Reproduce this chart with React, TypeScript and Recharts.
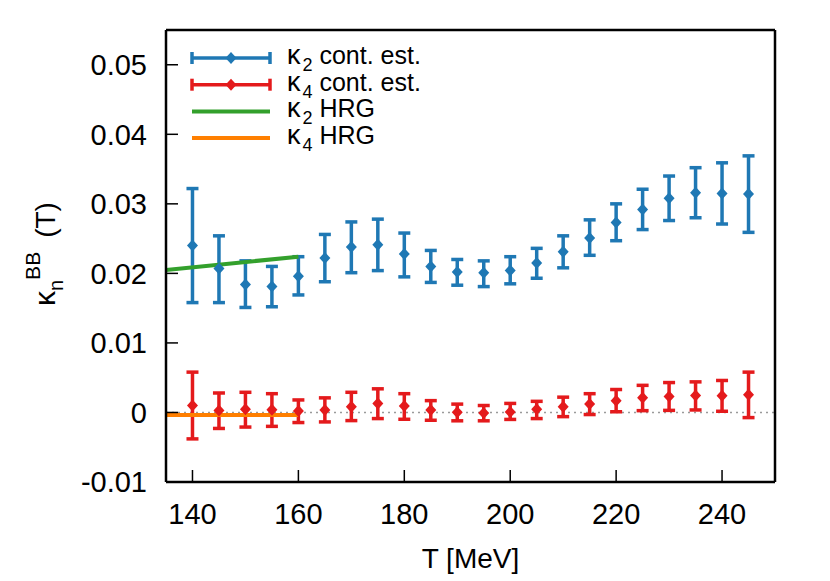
import React from 'react';
import { ComposedChart, Scatter, Line, XAxis, YAxis, ErrorBar, ReferenceLine, Legend } from 'recharts';

// temperatures of the continuum estimates
const temps = [140, 145, 150, 155, 160, 165, 170, 175, 180, 185, 190, 195, 200, 205, 210, 215, 220, 225, 230, 235, 240, 245];

// kappa_2 continuum estimate: central value and band edges
const k2Center = [0.0240, 0.0207, 0.0184, 0.0181, 0.0196, 0.0222, 0.0238, 0.0241, 0.0228, 0.0210, 0.0202, 0.0201, 0.0204, 0.0215, 0.0231, 0.0251, 0.0273, 0.0292, 0.0308, 0.0316, 0.0315, 0.0314];
const k2Upper = [0.0322, 0.0254, 0.0218, 0.0210, 0.0224, 0.0256, 0.0274, 0.0278, 0.0258, 0.0233, 0.0220, 0.0218, 0.0224, 0.0236, 0.0254, 0.0277, 0.0300, 0.0321, 0.0340, 0.0352, 0.0359, 0.0369];
const k2Lower = [0.0158, 0.0158, 0.0151, 0.0152, 0.0169, 0.0188, 0.0201, 0.0204, 0.0195, 0.0187, 0.0183, 0.0181, 0.0185, 0.0193, 0.0208, 0.0226, 0.0247, 0.0263, 0.0276, 0.0280, 0.0271, 0.0259];

// kappa_4 continuum estimate
const k4Center = [0.0010, 0.0003, 0.00045, 0.0004, 0.0002, 0.00036, 0.00083, 0.0013, 0.00093, 0.00036, 0.00002, -0.00007, 0.00007, 0.00045, 0.00083, 0.0012, 0.0017, 0.0021, 0.0023, 0.00245, 0.0024, 0.00255];
const k4Upper = [0.0058, 0.0028, 0.0029, 0.0027, 0.0018, 0.0021, 0.0029, 0.0034, 0.0027, 0.0017, 0.0012, 0.0010, 0.0013, 0.0016, 0.0022, 0.0027, 0.0033, 0.0039, 0.0043, 0.0044, 0.0046, 0.0058];
const k4Lower = [-0.0038, -0.0023, -0.0021, -0.0020, -0.00145, -0.00136, -0.00117, -0.00088, -0.00098, -0.00112, -0.0012, -0.0012, -0.0010, -0.00088, -0.0006, -0.0003, 0.0001, 0.00026, 0.0003, 0.00036, 0.00017, -0.00074];

// HRG curves
const hrgTemps = [135, 160];
const k2Hrg = [0.0205, 0.0224];
const k4Hrg = [-0.00035, -0.00035];

const xTicks = [140, 160, 180, 200, 220, 240];
const yTicks = [-0.01, 0, 0.01, 0.02, 0.03, 0.04, 0.05];

const legendSubs = ['2', '4', '2', '4'];
const legendNames = [' cont. est.', ' cont. est.', ' HRG', ' HRG'];

const BLUE = '#1f78b4';
const RED = '#e41a1c';
const GREEN = '#33a02c';
const ORANGE = '#ff7f00';
const FONT = '"Liberation Sans", Arial, sans-serif';

const legendColors = [BLUE, RED, GREEN, ORANGE];
const legendBars = [true, true, false, false];

const k2Data = temps.map((t, i) => ({ t, v: k2Center[i], err: [k2Center[i] - k2Lower[i], k2Upper[i] - k2Center[i]] }));
const k4Data = temps.map((t, i) => ({ t, v: k4Center[i], err: [k4Center[i] - k4Lower[i], k4Upper[i] - k4Center[i]] }));
const k2HrgData = hrgTemps.map((t, i) => ({ t, v: k2Hrg[i] }));
const k4HrgData = hrgTemps.map((t, i) => ({ t, v: k4Hrg[i] }));

const diamond = (color: string) => (props: any) => {
    const { cx, cy } = props;
    return <polygon points={`${cx},${cy - 6} ${cx + 5.5},${cy} ${cx},${cy + 6} ${cx - 5.5},${cy}`} fill={color} />;
};

function LegendBox() {
    return (
        <svg width={270} height={140} style={{ display: 'block' }}>
            {legendColors.map((c, i) => {
                const y = 28 + i * 26.7;
                return (
                    <g key={i}>
                        <line x1={4} x2={82} y1={y} y2={y} stroke={c} strokeWidth={legendBars[i] ? 3.5 : 4} />
                        {legendBars[i] && (
                            <g>
                                <line x1={4} x2={4} y1={y - 6} y2={y + 6} stroke={c} strokeWidth={3.5} />
                                <line x1={82} x2={82} y1={y - 6} y2={y + 6} stroke={c} strokeWidth={3.5} />
                                <polygon points={`${43},${y - 6} ${48.5},${y} ${43},${y + 6} ${37.5},${y}`} fill={c} />
                            </g>
                        )}
                        <text x={99} y={y + 6} fontSize={25} fontFamily={FONT} fill="#000">
                            <tspan fontSize={27}>κ</tspan>
                            <tspan dy={7} dx={2} fontSize={18}>{legendSubs[i]}</tspan>
                            <tspan dy={-7}>{legendNames[i]}</tspan>
                        </text>
                    </g>
                );
            })}
        </svg>
    );
}

const XLabel = (props: any) => {
    const vb = props.viewBox;
    return (
        <text x={vb.x + vb.width / 2} y={vb.y + 86} textAnchor="middle" fontSize={28} fontFamily={FONT} fill="#000">
            T [MeV]
        </text>
    );
};

const YLabel = (props: any) => {
    const vb = props.viewBox;
    const x = 55;
    const y = vb.y + vb.height / 2 + 50;
    return (
        <text x={x} y={y} transform={`rotate(-90 ${x} ${y})`} fontSize={28} fontFamily={FONT} fill="#000">
            <tspan fontSize={30}>κ</tspan>
            <tspan dy={8} fontSize={20}>n</tspan>
            <tspan dy={-23} fontSize={21}>BB</tspan>
            <tspan dy={15} dx={14}>(T)</tspan>
        </text>
    );
};

export default function App() {
    const axisLine = { stroke: '#000', strokeWidth: 2.5 };
    const tickLine = { stroke: '#000', strokeWidth: 1.5 };
    return (
        <div style={{ position: 'absolute', left: 0, top: 0, background: '#fff' }}>
            <ComposedChart width={830} height={581} margin={{ top: 0, right: 0, bottom: 0, left: 0 }}>
                <XAxis xAxisId={0} dataKey="t" type="number" domain={[135, 250]} ticks={xTicks} allowDataOverflow
                    height={99} axisLine={axisLine} tickLine={tickLine} tickSize={-12} tickMargin={33}
                    tick={{ fill: '#000', fontSize: 29, fontFamily: FONT }} label={XLabel} />
                <XAxis xAxisId="top" orientation="top" dataKey="t" type="number" domain={[135, 250]} ticks={xTicks}
                    allowDataOverflow height={30} axisLine={axisLine} tickLine={tickLine} tickSize={-12} tick={false} />
                <YAxis yAxisId={0} dataKey="v" type="number" domain={[-0.01, 0.055]} ticks={yTicks} allowDataOverflow
                    width={166} axisLine={axisLine} tickLine={tickLine} tickSize={-12} tickMargin={31}
                    tickFormatter={(v: number) => (v === 0 ? '0' : v.toFixed(2))}
                    tick={{ fill: '#000', fontSize: 29, fontFamily: FONT }} label={YLabel} />
                <YAxis yAxisId="right" orientation="right" type="number" domain={[-0.01, 0.055]} ticks={yTicks}
                    allowDataOverflow width={55} axisLine={axisLine} tickLine={tickLine} tickSize={-12} tick={false} />
                <ReferenceLine y={0} stroke="#9a9a9a" strokeWidth={1.5} strokeDasharray="2 4" />
                <Scatter name="k2" data={k2Data} dataKey="v" fill={BLUE} shape={diamond(BLUE)} isAnimationActive={false}>
                    <ErrorBar dataKey="err" direction="y" width={6} stroke={BLUE} strokeWidth={3.5} isAnimationActive={false} />
                </Scatter>
                <Scatter name="k4" data={k4Data} dataKey="v" fill={RED} shape={diamond(RED)} isAnimationActive={false}>
                    <ErrorBar dataKey="err" direction="y" width={6} stroke={RED} strokeWidth={3.5} isAnimationActive={false} />
                </Scatter>
                <Line data={k2HrgData} dataKey="v" stroke={GREEN} strokeWidth={4} dot={false} isAnimationActive={false} />
                <Line data={k4HrgData} dataKey="v" stroke={ORANGE} strokeWidth={4} dot={false} isAnimationActive={false} />
                <Legend layout="vertical" align="center" verticalAlign="middle" content={() => <LegendBox />}
                    wrapperStyle={{ position: 'absolute', left: 188, top: 30, width: 270, height: 140 }} />
            </ComposedChart>
        </div>
    );
}
